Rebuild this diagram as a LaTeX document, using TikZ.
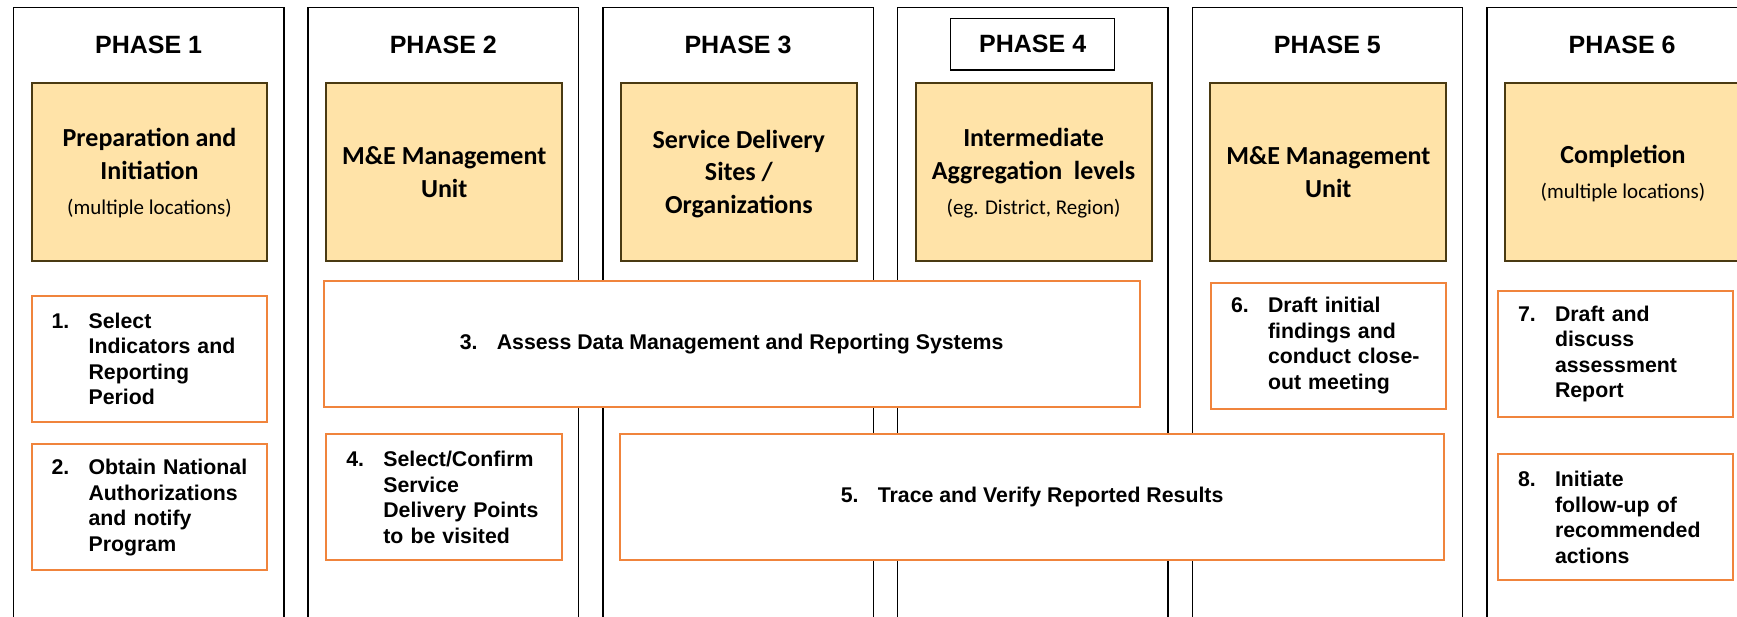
\documentclass[tikz,border=0pt]{standalone}
\usepackage{fontspec}
\setmainfont{Liberation Sans}
\newfontfamily\calibri{Carlito}

\definecolor{headfill}{HTML}{FFE3A8}
\definecolor{headline}{HTML}{4A3A12}
\definecolor{taskline}{HTML}{F0843C}

% Nummer mit haengendem Einzug
\newcommand{\tasknum}[1]{\makebox[37pt][l]{#1}}
\newcommand{\taskind}{\hspace*{37pt}}
\newcommand{\headsub}[1]{{\mdseries\fontsize{21}{25}\selectfont #1}}

\tikzset{
  col/.style={draw=black, line width=1.4pt},
  phase/.style={font=\bfseries\fontsize{25}{30}\selectfont, inner sep=0pt},
  head/.style={draw=headline, fill=headfill, line width=2pt, anchor=north west,
    minimum width=235.8pt, minimum height=178.3pt, inner sep=0pt, align=center,
    text depth=0pt, font=\calibri\bfseries\fontsize{26}{32.5}\selectfont},
  task/.style={draw=taskline, fill=white, line width=2pt, anchor=north west,
    minimum height=126pt, font=\bfseries\fontsize{21.3}{25.5}\selectfont},
  smalltask/.style={task, minimum width=235.8pt, text width=195.8pt,
    inner xsep=20pt, inner ysep=0pt, align=left},
  widetask/.style={task, inner sep=0pt}
}

\begin{document}
\begin{tikzpicture}[x=1pt, y=-1pt]
\clip (0,0) rectangle (1737,617);

% Spalten
\draw[col] (13.4,7.3) rectangle ++(270.5,640);
\draw[col] (308.1,7.3) rectangle ++(270.5,640);
\draw[col] (602.8,7.3) rectangle ++(270.5,640);
\draw[col] (897.5,7.3) rectangle ++(270.5,640);
\draw[col] (1192.2,7.3) rectangle ++(270.5,640);
\draw[col] (1486.9,7.3) rectangle ++(270.5,640);

% Phasen
\node[phase] (p1) at (148.6,45) {PHASE 1};
\node[phase] (p2) at (443.3,45) {PHASE 2};
\node[phase] (p3) at (738.0,45) {PHASE 3};
\node[phase, draw, fill=white, line width=1.5pt, minimum width=164pt,
  minimum height=51.7pt] (p4) at (1032.7,44.2) {PHASE 4};
\node[phase] (p5) at (1327.4,45) {PHASE 5};
\node[phase] (p6) at (1622.1,45) {PHASE 6};

% Ebenen
\node[head] (h1) at (30.6,81.7) {Preparation and\\Initiation\\[3pt]\headsub{(multiple locations)}};
\node[head] (h2) at (325.3,81.7) {M\&E Management\\Unit};
\node[head] (h3) at (620.0,81.7) {Service Delivery\\Sites /\\Organizations};
\node[head] (h4) at (914.7,81.7) {Intermediate\\Aggregation~ levels\\[3pt]\headsub{(eg. District, Region)}};
\node[head] (h5) at (1209.4,81.7) {M\&E Management\\Unit};
\node[head] (h6) at (1504.1,81.7) {Completion\\[3pt]\headsub{(multiple locations)}};

% Schritte
\node[smalltask] (s1) at (30.6,294.7) {\tasknum{1.}Select\\\taskind Indicators and\\\taskind Reporting\\\taskind Period};
\node[smalltask] (s2) at (30.6,443.3) {\tasknum{2.}Obtain National\\\taskind Authorizations\\\taskind and notify\\\taskind Program};
\node[widetask, minimum width=816.1pt] (s3) at (322.6,280) {\tasknum{3.}Assess Data Management and Reporting Systems};
\node[smalltask] (s4) at (325.3,433.3) {\tasknum{4.}Select/Confirm\\\taskind Service\\\taskind Delivery Points\\\taskind to be visited};
\node[widetask, minimum width=823.4pt] (s5) at (619.4,433.3) {\tasknum{5.}Trace and Verify Reported Results};
\node[smalltask, minimum width=234.6pt, text width=194.6pt] (s6) at (1210,281.7) {\tasknum{6.}Draft initial\\\taskind findings and\\\taskind conduct close-\\\taskind out meeting};
\node[smalltask, minimum width=235pt, text width=195pt] (s7) at (1497,290) {\tasknum{7.}Draft and\\\taskind discuss\\\taskind assessment\\\taskind Report};
\node[smalltask, minimum width=235pt, text width=195pt] (s8) at (1497,453.3) {\tasknum{8.}Initiate\\\taskind follow-up of\\\taskind recommended\\\taskind actions};

\end{tikzpicture}
\end{document}
